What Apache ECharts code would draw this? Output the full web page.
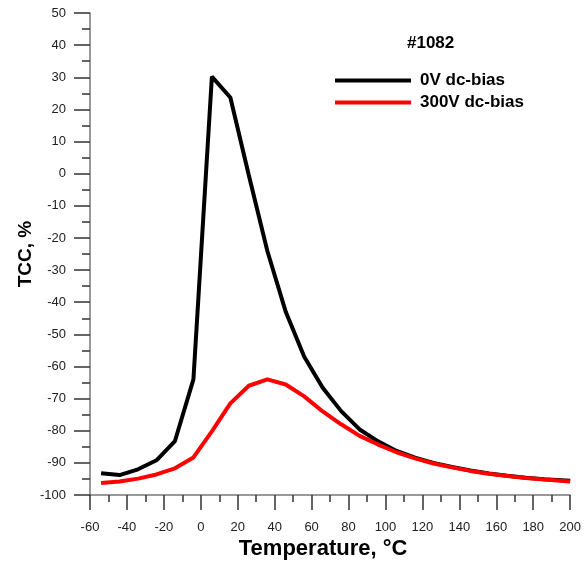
<!DOCTYPE html>
<html>
<head>
<meta charset="utf-8">
<script src="https://cdn.jsdelivr.net/npm/echarts@6/dist/echarts.min.js"></script>
<style>html,body{margin:0;padding:0;background:#fff}#c{width:584px;height:567px}</style>
</head>
<body>
<div id="c"></div>
<script>
var temps = [-54, -44, -34, -24, -14, -4, 6, 16, 26, 36, 46, 56, 66, 76, 86, 96, 106, 116, 126, 136, 146, 156, 166, 176, 186, 200];
var tcc0V = [-93.2, -93.8, -92, -89.2, -83.2, -64, 30.2, 23.7, -0.5, -24, -43, -57, -66.6, -73.9, -79.6, -83.3, -86.3, -88.4, -90, -91.3, -92.4, -93.3, -94, -94.6, -95.1, -95.6];
var tcc300V = [-96.3, -95.8, -94.9, -93.6, -91.7, -88.3, -80.2, -71.5, -66, -64, -65.6, -69.3, -74, -78, -81.6, -84.3, -86.7, -88.6, -90.2, -91.4, -92.5, -93.4, -94.1, -94.7, -95.2, -95.8];
var seriesNames = ['0V dc-bias', '300V dc-bias'];
var sampleLabel = '#1082';

function pairs(xs, ys) { return xs.map(function (x, i) { return [x, ys[i]]; }); }
var FONT = 'Liberation Sans, Arial, sans-serif';
var chart = echarts.init(document.getElementById('c'));
chart.setOption({
  animation: false,
  backgroundColor: '#fff',
  grid: { left: 90, right: 12, top: 13, bottom: 72 },
  legend: {
    orient: 'vertical', left: 335, top: 72, itemGap: 5, padding: 0,
    itemWidth: 76, itemHeight: 4, icon: 'rect',
    data: seriesNames,
    textStyle: { fontFamily: FONT, fontSize: 17, fontWeight: 'bold', color: '#000', padding: [0, 0, 0, 4] }
  },
  graphic: [{
    type: 'text', left: 407, top: 35,
    style: { text: sampleLabel, font: 'bold 17px ' + FONT, fill: '#000' }
  }],
  xAxis: {
    type: 'value', min: -60, max: 200, interval: 20,
    name: 'Temperature, °C', nameLocation: 'middle', nameGap: 43, nameMoveOverlap: false,
    nameTextStyle: { fontFamily: FONT, fontSize: 22, fontWeight: 'bold', color: '#000', padding: [0, 14, 0, 0] },
    axisLine: { onZero: false, lineStyle: { color: '#777', width: 1.5 } },
    axisTick: { length: 15, lineStyle: { color: '#333', width: 1.5 } },
    minorTick: { show: true, splitNumber: 2, length: 7, lineStyle: { color: '#333', width: 1.5 } },
    splitLine: { show: false },
    axisLabel: { fontFamily: FONT, fontSize: 13, color: '#222', margin: 26 }
  },
  yAxis: {
    type: 'value', min: -100, max: 50, interval: 10,
    name: 'TCC, %', nameLocation: 'middle', nameGap: 55, nameMoveOverlap: false,
    nameTextStyle: { fontFamily: FONT, fontSize: 19, fontWeight: 'bold', color: '#000' },
    axisLine: { show: true, onZero: false, lineStyle: { color: '#777', width: 1.5 } },
    axisTick: { show: true, length: 16, lineStyle: { color: '#333', width: 1.5 } },
    minorTick: { show: true, splitNumber: 2, length: 8, lineStyle: { color: '#333', width: 1.5 } },
    splitLine: { show: false },
    axisLabel: { fontFamily: FONT, fontSize: 13, color: '#222', margin: 24 }
  },
  series: [
    { name: seriesNames[0], type: 'line', data: pairs(temps, tcc0V), symbol: 'none',
      itemStyle: { color: '#000' }, lineStyle: { color: '#000', width: 4 } },
    { name: seriesNames[1], type: 'line', data: pairs(temps, tcc300V), symbol: 'none',
      itemStyle: { color: '#ff0000' }, lineStyle: { color: '#ff0000', width: 4 } }
  ]
});
</script>
</body>
</html>
